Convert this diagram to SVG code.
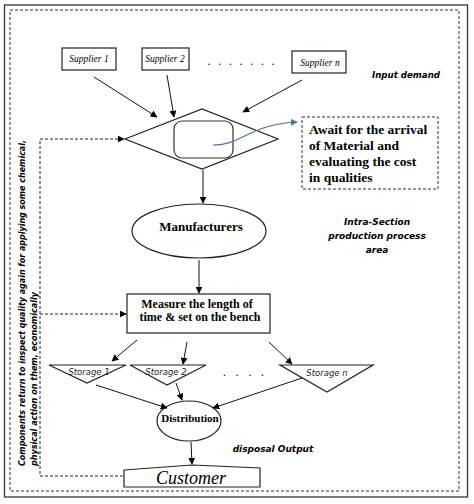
<svg xmlns="http://www.w3.org/2000/svg" width="474" height="504" viewBox="0 0 474 504">
<defs>
<marker id="ah" viewBox="0 0 10 10" refX="9" refY="5" markerWidth="7" markerHeight="7" orient="auto" markerUnits="userSpaceOnUse"><path d="M0,0 L10,5 L0,10 z" fill="#000"/></marker>
<marker id="ahb" viewBox="0 0 10 10" refX="9" refY="5" markerWidth="7" markerHeight="7" orient="auto" markerUnits="userSpaceOnUse"><path d="M0,0 L10,5 L0,10 z" fill="#4f7196"/></marker>
<style>
.shape{fill:#fff;stroke:#222;stroke-width:1.2}
.con{fill:none;stroke:#111;stroke-width:1;marker-end:url(#ah)}
.dash{fill:none;stroke:#222;stroke-width:1;stroke-dasharray:3,2}
.sup{font-family:"Liberation Serif",serif;font-style:italic;font-size:9.5px;fill:#000}
.bs{font-family:"Liberation Serif",serif;font-weight:bold;fill:#000}
.note{font-family:"DejaVu Sans",sans-serif;font-weight:bold;font-style:italic;font-size:9px;fill:#000}
.sto{font-family:"DejaVu Sans",sans-serif;font-style:italic;font-size:8.5px;fill:#222}
.dots{font-family:"Liberation Sans",sans-serif;font-size:12px;fill:#000}
</style>
</defs>
<rect x="0" y="0" width="474" height="504" fill="#fff"/>
<rect x="4.5" y="5" width="463" height="492" fill="none" stroke="#333" stroke-width="1.3"/>
<rect x="10" y="10" width="449" height="481" fill="none" stroke="#333" stroke-width="1" stroke-dasharray="3,2"/>

<g id="supplier1"><rect class="shape" x="62" y="48" width="54" height="22"/><text class="sup" x="89" y="62" text-anchor="middle">Supplier 1</text></g>
<g id="supplier2"><rect class="shape" x="142" y="48" width="47" height="22"/><text class="sup" x="165" y="62" text-anchor="middle">Supplier  2</text></g>
<text class="dots" x="242" y="65" text-anchor="middle" letter-spacing="2">. . . . . . .</text>
<g id="suppliern"><rect class="shape" x="292" y="51" width="54" height="22"/><text class="sup" x="320" y="66" text-anchor="middle">Supplier n</text></g>
<text class="note" x="406" y="78" text-anchor="middle" textLength="68" lengthAdjust="spacingAndGlyphs">Input demand</text>

<g id="decision">
<polygon class="shape" points="125,139 202,109 278,139 202,169"/>
<rect x="174" y="121" width="59" height="37" rx="8" fill="none" stroke="#333" stroke-width="1.2"/>
</g>
<g id="await">
<rect x="302" y="117" width="136" height="72" fill="#fff" stroke="#333" stroke-width="1" stroke-dasharray="3,2"/>
<text class="bs" font-size="13.5" x="309" y="134">Await for the arrival</text>
<text class="bs" font-size="13.5" x="309" y="150">of Material and</text>
<text class="bs" font-size="13.5" x="309" y="166">evaluating the cost</text>
<text class="bs" font-size="13.5" x="309" y="182">in qualities</text>
</g>

<g id="manufacturers"><ellipse class="shape" cx="199" cy="231" rx="67" ry="27"/><text class="bs" font-size="13" x="201" y="231" text-anchor="middle">Manufacturers</text></g>
<text class="note" font-size="9.5" text-anchor="middle"><tspan x="377" y="225">Intra-Section</tspan><tspan x="377" y="239">production process</tspan><tspan x="377" y="253">area</tspan></text>

<g id="measure"><rect class="shape" x="127" y="294" width="143" height="39"/>
<text class="bs" font-size="12" x="197" y="308" text-anchor="middle">Measure the length of</text>
<text class="bs" font-size="12" x="200" y="321" text-anchor="middle">time &amp; set on the bench</text></g>

<g id="storage1"><polygon class="shape" points="49,365 126,365 87,383"/><text class="sto" x="89" y="375" text-anchor="middle">Storage 1</text></g>
<g id="storage2"><polygon class="shape" points="130,365 206,365 167,385"/><text class="sto" x="166" y="375" text-anchor="middle">Storage 2</text></g>
<text class="dots" x="245" y="376" text-anchor="middle" letter-spacing="3">. . . .</text>
<g id="storagen"><polygon class="shape" points="280,365 373,365 327,392"/><text class="sto" x="327" y="376" text-anchor="middle">Storage  n</text></g>

<g id="distribution"><ellipse class="shape" cx="189" cy="421" rx="32" ry="20"/><text class="bs" font-size="11" x="190" y="422" text-anchor="middle">Distribution</text></g>
<text class="note" x="273" y="452" text-anchor="middle">disposal Output</text>

<g id="customer"><polygon class="shape" points="124,470 192,465 260,468 260,487 124,487"/><text font-family="Liberation Serif, serif" font-style="italic" font-size="18" x="191" y="484" text-anchor="middle">Customer</text></g>

<text class="note" font-size="8.6" transform="rotate(-90)" x="-466" y="25" textLength="326" lengthAdjust="spacingAndGlyphs">Components return to inspect quality again for applying some chemical,</text>
<text class="note" font-size="8.6" transform="rotate(-90)" x="-466" y="37" textLength="174" lengthAdjust="spacingAndGlyphs">physical action on them, economically</text>

<g id="connectors">
<line class="con" x1="94" y1="77" x2="157" y2="117"/>
<line class="con" x1="167" y1="75" x2="174" y2="117"/>
<line class="con" x1="302" y1="80" x2="243" y2="112"/>
<line class="con" x1="203" y1="170" x2="203" y2="203"/>
<line class="con" x1="199" y1="260" x2="199" y2="293"/>
<line class="con" x1="137" y1="340" x2="112" y2="361"/>
<line class="con" x1="187" y1="342" x2="183" y2="364"/>
<line class="con" x1="269" y1="342" x2="292" y2="364"/>
<line class="con" x1="96" y1="385" x2="167" y2="408"/>
<line class="con" x1="176" y1="383" x2="182" y2="400"/>
<line class="con" x1="302" y1="378" x2="213" y2="408"/>
<line class="con" x1="191" y1="442" x2="192" y2="464"/>
<path class="dash" d="M123,476 H40 V139 H124" marker-end="url(#ah)"/>
<path class="dash" d="M40,314 H126" marker-end="url(#ah)"/>
<path d="M213,145 C240,146 250,124 297,122" fill="none" stroke="#4f7196" stroke-width="1.2" marker-end="url(#ahb)"/>
</g>
</svg>
